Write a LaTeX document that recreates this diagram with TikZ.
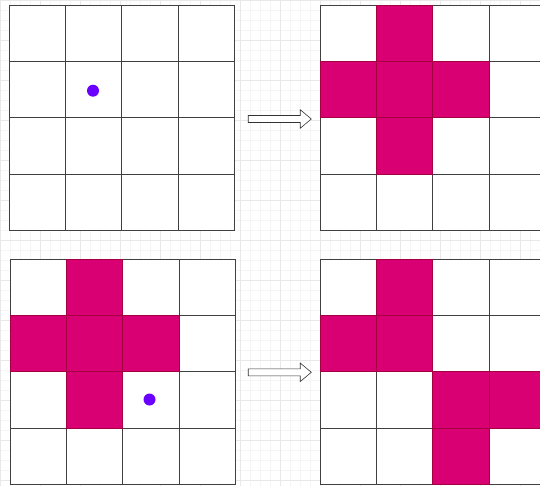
\documentclass[tikz,border=0pt]{standalone}
\usepackage{xcolor}
\usetikzlibrary{shapes.arrows}
\definecolor{crossfill}{HTML}{D80073}
\definecolor{crossline}{HTML}{A50040}
\definecolor{pinviolet}{HTML}{6A00FF}
\begin{document}
\begin{tikzpicture}[x=1pt,y=-1pt,
cell/.style={draw=black!75,fill=white,line width=0.7pt},
hit/.style={draw=crossline,fill=crossfill,line width=0.7pt},
pin/.style={circle,fill=pinviolet,inner sep=0pt,minimum size=12pt},
move/.style={single arrow,draw=black!80,fill=white,line width=0.6pt,inner xsep=0pt,inner ysep=3.2pt,
  minimum height=63pt,minimum width=18pt,single arrow head extend=5.8pt,single arrow tip angle=80}]
\useasboundingbox (0,0) rectangle (540,486);
\clip (0,0) rectangle (540,486);
% background grid
\draw[black!4,line width=0.4pt,step=10pt] (0,486) grid (540,0);
\draw[black!9,line width=0.4pt,step=40pt] (0,486) grid (540,0);
% the four boards
\foreach \gx/\gy in {9/5,320/5,10/259,320/259}
  \foreach \i in {0,...,3}
    \foreach \j in {0,...,3}
      \draw[cell] ({\gx+\i*56.3},{\gy+\j*56.3}) rectangle ++(56.3,56.3);
% filled cells
\foreach \gx/\gy/\i/\j in {320/5/1/0,320/5/0/1,320/5/1/1,320/5/2/1,320/5/1/2,
  10/259/1/0,10/259/0/1,10/259/1/1,10/259/2/1,10/259/1/2,
  320/259/1/0,320/259/0/1,320/259/1/1,320/259/2/2,320/259/3/2,320/259/2/3}
  \draw[hit] ({\gx+\i*56.3},{\gy+\j*56.3}) rectangle ++(56.3,56.3);
% chosen points
\node[pin] (pintop) at (93,90.7) {};
\node[pin] (pinbottom) at (149.5,399.5) {};
% arrows between boards
\node[move] (movetop) at (277.7,119) {};
\node[move] (movebottom) at (277.7,372.3) {};
\end{tikzpicture}
\end{document}
